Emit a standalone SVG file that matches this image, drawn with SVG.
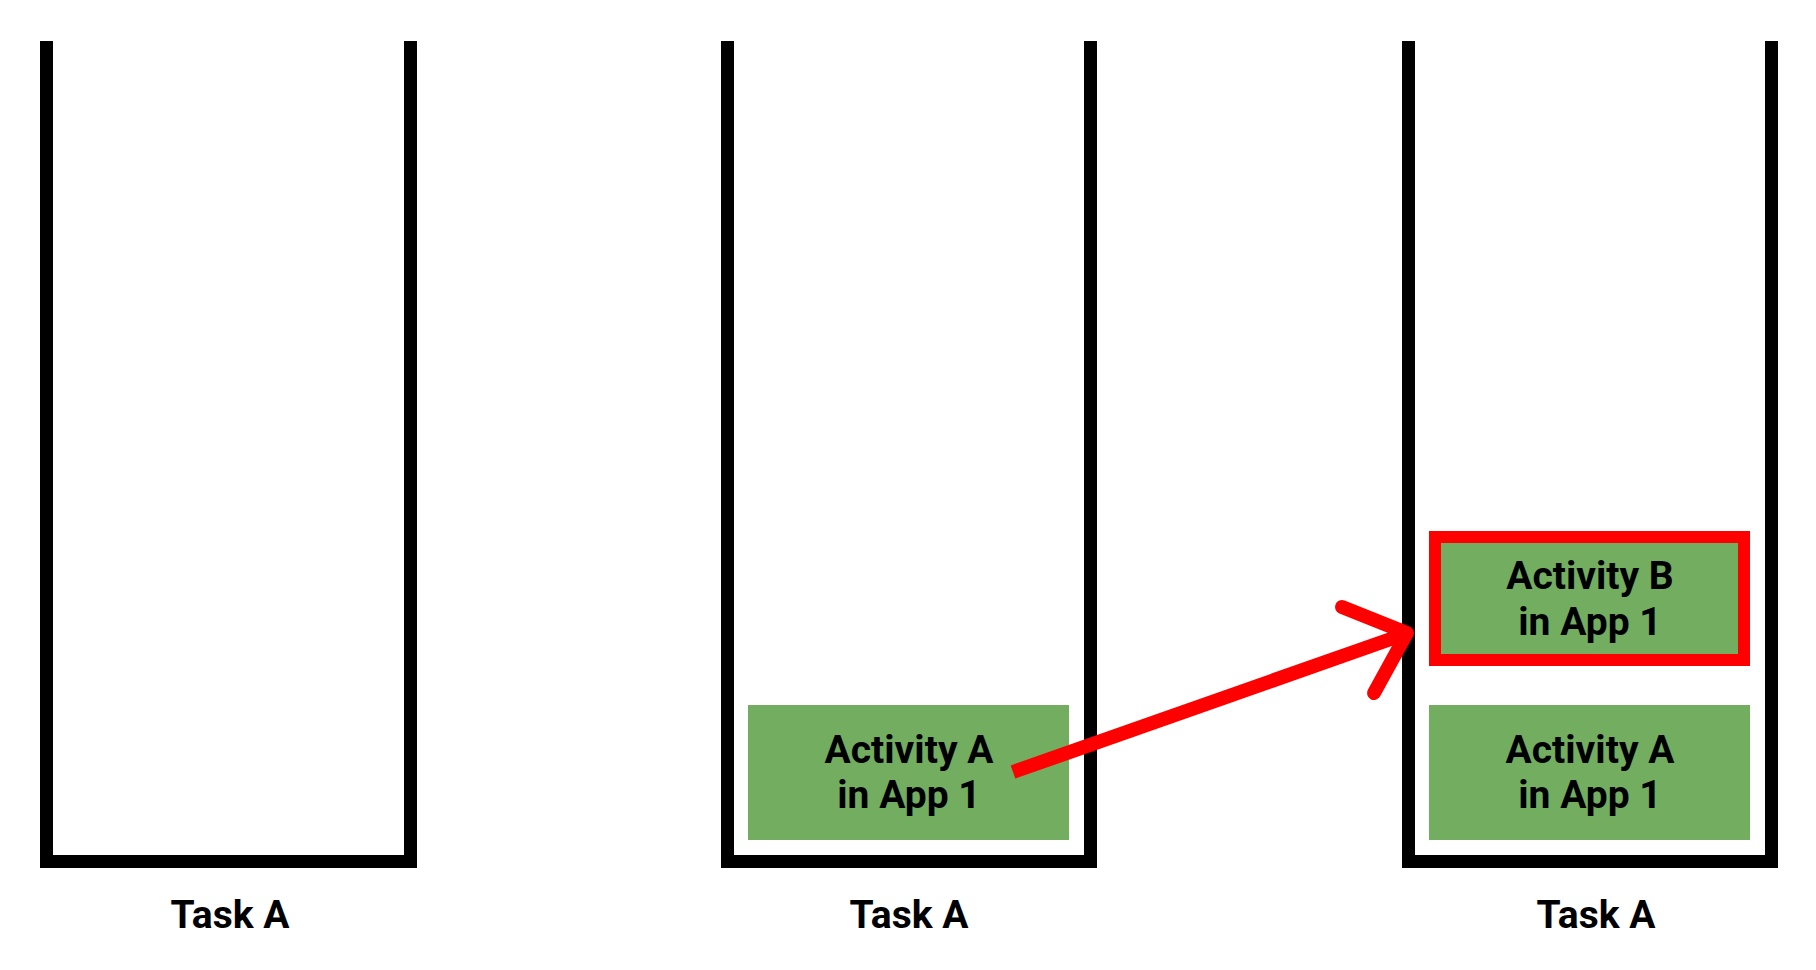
<svg xmlns="http://www.w3.org/2000/svg" width="1816" height="970" viewBox="0 0 1816 970">
<style>
.task{fill:none;stroke:#000;stroke-width:13;stroke-linejoin:miter}
.act{fill:#73ad60}
.t{font-family:Roboto,"Liberation Sans",sans-serif;font-weight:bold;font-size:39px;fill:#000;text-anchor:middle}
.arr{fill:none;stroke:#ff0000;stroke-width:14}
</style>
<rect width="1816" height="970" fill="#fff"/>
<g id="task1">
<path class="task" d="M46.5,41 V861.5 H410.5 V41"/>
<text class="t" x="230" y="928">Task A</text>
</g>
<g id="task2">
<path class="task" d="M727.5,41 V861.5 H1090.5 V41"/>
<text class="t" x="909" y="928">Task A</text>
</g>
<g id="task3">
<path class="task" d="M1408.5,41 V861.5 H1771.5 V41"/>
<text class="t" x="1596" y="928">Task A</text>
</g>
<g id="activityA1">
<rect class="act" x="748" y="705" width="321" height="135"/>
<text class="t" x="909" y="763">Activity A</text>
<text class="t" x="909" y="808">in App 1</text>
</g>
<g id="activityA2">
<rect class="act" x="1429" y="705" width="321" height="135"/>
<text class="t" x="1590" y="763">Activity A</text>
<text class="t" x="1590" y="808">in App 1</text>
</g>
<g id="activityB">
<rect class="act" x="1435" y="537" width="309" height="123" stroke="#ff0000" stroke-width="12"/>
<text class="t" x="1590" y="589">Activity B</text>
<text class="t" x="1590" y="635">in App 1</text>
</g>
<g id="connectors">
<line class="arr" x1="1013" y1="772" x2="1405" y2="634" stroke-linecap="butt"/>
<polyline class="arr" points="1342,607 1407,633 1374,693" stroke-linecap="round" stroke-linejoin="round"/>
</g>
</svg>
